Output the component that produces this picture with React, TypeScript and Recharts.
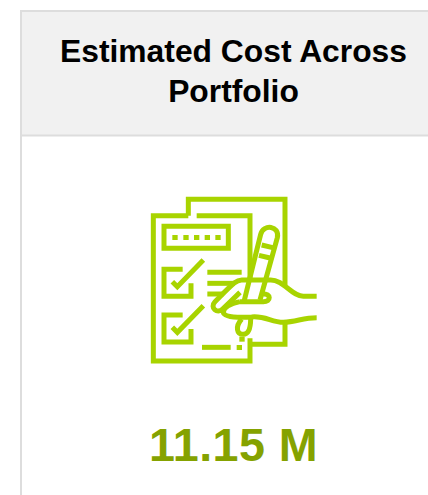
import { Layer, Rectangle, Surface, Text } from "recharts";

const titleLines = ["Estimated Cost Across", "Portfolio"];
const kpiValues = ["11.15 M"];

const WIDTH = 428;
const HEIGHT = 495;
const CENTER_X = 233.5;
const FONT = "'Liberation Sans', Arial, sans-serif";
const ICON = "#a8d400";

// icon outlines, drawn on a 3x grid and scaled down in the Layer below
const iconStrokes = [
  "M145 92V43H435V300",
  "M335 478H435V415",
  "M170 92H330V290",
  "M145 92H40V528H330V460",
  "M72 124H265V190H72Z",
  "M128 253H72V334H153V295",
  "M97 290L112 305L190 225",
  "M128 390H72V471H153V432",
  "M97 427L112 442L190 362",
  "M202 262H305",
  "M202 295H285",
  "M202 327H250",
  "M186 487H272",
  "M312 350L362 148C370 116 420 122 412 158L360 345",
  "M365 180L398 188",
  "M357 211L390 219",
  "M530 334H490C455 334 430 283 390 285L305 285C288 285 280 295 225 350C208 368 232 388 248 372L300 322",
  "M300 350H370C394 350 394 326 368 326",
  "M300 350C270 356 250 368 250 382C252 398 300 398 335 396C375 392 395 412 430 412C470 410 490 398 530 398",
  "M305 402C285 425 290 448 310 448C325 448 332 430 332 400",
];

const iconDots = [
  [97, 150], [130, 150], [162, 150], [194, 150], [226, 150], [290, 480], [298, 455],
];

export default function App() {
  return (
    <div style={{ position: "absolute", left: 0, top: 0, width: WIDTH, height: HEIGHT, overflow: "hidden" }}>
      <Surface width={WIDTH} height={HEIGHT} viewBox={{ x: 0, y: 0, width: WIDTH, height: HEIGHT }}>
        <Rectangle x={0} y={0} width={WIDTH} height={HEIGHT} fill="#ffffff" />
        <Rectangle x={21} y={11} width={440} height={124.5} fill="#f1f1f1" stroke="#dddddd" strokeWidth={2} />
        <Rectangle x={20} y={135} width={2} height={360} fill="#dddddd" />
        {titleLines.map((line, i) => (
          <Text
            key={line}
            x={CENTER_X}
            y={62 + i * 39.6}
            textAnchor="middle"
            verticalAnchor="end"
            fontFamily={FONT}
            fontWeight={700}
            fontSize={31.8}
            fill="#000000"
          >
            {line}
          </Text>
        ))}
        <Layer transform="translate(140 185) scale(0.33333)">
          {iconStrokes.map((d) => (
            <path key={d} d={d} fill="none" stroke={ICON} strokeWidth={15} />
          ))}
          {iconDots.map(([x, y]) => (
            <Rectangle key={`${x}-${y}`} x={x} y={y} width={16} height={15} fill={ICON} />
          ))}
        </Layer>
        <Text
          x={CENTER_X}
          y={461}
          textAnchor="middle"
          verticalAnchor="end"
          fontFamily={FONT}
          fontWeight={700}
          fontSize={46.67}
          letterSpacing={0.4}
          fill="#85a200"
        >
          {kpiValues[0]}
        </Text>
      </Surface>
    </div>
  );
}
